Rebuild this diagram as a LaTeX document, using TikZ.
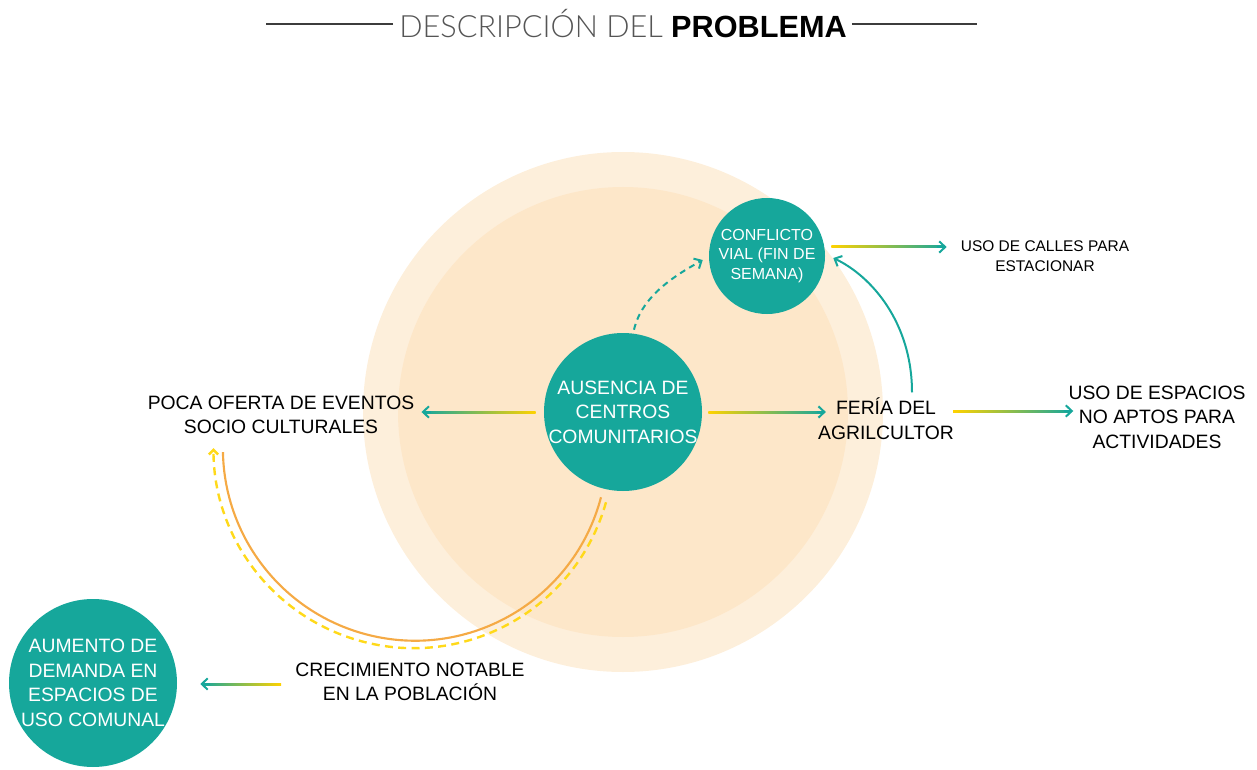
\documentclass[tikz,border=0pt]{standalone}
\usepackage{fontspec}
\setmainfont{Liberation Sans}
\IfFontExistsTF{Lato Light}{\newfontfamily\lightfont{Lato Light}}{\newfontfamily\lightfont{Liberation Sans}}
\usetikzlibrary{arrows.meta,calc}
\definecolor{tealc}{RGB}{22,167,155}
\definecolor{goldc}{RGB}{255,210,0}
\definecolor{orangec}{RGB}{245,170,69}
\definecolor{dashyc}{RGB}{255,217,26}
\definecolor{outerc}{RGB}{253,239,219}
\definecolor{innerc}{RGB}{253,231,201}
\definecolor{titlegray}{RGB}{85,85,85}
\definecolor{linegray}{RGB}{60,60,60}
\tikzset{
  txt/.style={font=\fontsize{14.5}{18.4}\selectfont, align=center, inner sep=0pt, text=black},
  wtxt/.style={txt, text=white},
  smtxt/.style={font=\fontsize{11.6}{15}\selectfont, align=center, inner sep=0pt, text=black},
  bub/.style={circle, fill=tealc, draw=none, inner sep=0pt},
  barb/.style={-{Straight Barb[length=4.5pt,width=8.5pt]}},
  headarrow/.style={draw=tealc, line width=1.5pt, barb},
  tline/.style={draw=linegray, line width=0.8pt},
}
\newcommand\gradarrow[4]{%
  \shade[left color=#3,right color=#4] ($(#1)+(0,-1)$) rectangle ($($(#2)!1.5pt!(#1)$)+(0,1)$);
  \draw[headarrow] ($(#2)!7pt!(#1)$) -- (#2);
}
\begin{document}
\begin{tikzpicture}[x=0.75pt,y=-0.75pt]
\useasboundingbox (0,0) rectangle (1257,770);
% background circles
\node[circle, fill=outerc, inner sep=0pt, minimum size=390pt] (bgout) at (623,412) {};
\node[circle, fill=innerc, inner sep=0pt, minimum size=337.5pt] (bgin) at (623,412) {};

% title
\node[anchor=base, inner sep=0pt, font=\fontsize{23}{26}\selectfont] (title) at (623,37.5)
  {{\lightfont\color{titlegray}DESCRIPCIÓN DEL }{\bfseries PROBLEMA}};
\draw[tline] ($(title.base west)+(-6,-13.5)$) -- ++(-127,0);
\draw[tline] ($(title.base east)+(5,-13.5)$) -- ++(125,0);

% main bubbles
\node[bub, minimum size=118.5pt] (aus) at (623,412) {};
\node[wtxt] (aust) at (aus.center) {AUSENCIA DE\\CENTROS\\COMUNITARIOS};
\node[bub, minimum size=87pt] (conf) at (767,256) {};
\node[wtxt, font=\fontsize{12}{14.6}\selectfont] (conft) at (conf.center) {CONFLICTO\\VIAL (FIN DE\\SEMANA)};
\node[bub, minimum size=126pt] (aum) at (93,683) {};
\node[wtxt] (aumt) at (aum.center) {AUMENTO DE\\DEMANDA EN\\ESPACIOS DE\\USO COMUNAL};

% text nodes
\node[txt] (poca) at (281,415) {POCA OFERTA DE EVENTOS\\SOCIO CULTURALES};
\node[txt] (feria) at (886,418.5) {FERÍA DEL\\AGRILCULTOR};
\node[txt] (uesp) at (1157,417) {USO DE ESPACIOS\\NO APTOS PARA\\ACTIVIDADES};
\node[smtxt] (ucalles) at (1045,256) {USO DE CALLES PARA\\ESTACIONAR};
\node[txt] (crec) at (410,682) {CRECIMIENTO NOTABLE\\EN LA POBLACIÓN};

% arcs
\draw[orangec, line width=1.6pt] ($(aus.south)+(-22,6)$) arc[start angle=14.7, end angle=178.9, radius=192.2];
\draw[dashyc, line width=1.8pt, dash pattern=on 6pt off 4pt, -{Straight Barb[length=3.5pt,width=7pt]}]
  ($(aus.south)+(-17,11)$) arc[start angle=15.7, end angle=180, radius=200];

% straight gradient arrows
\gradarrow{$(aus.west)+(-8,0)$}{$(poca.east)+(7,-3)$}{tealc}{goldc}
\gradarrow{$(aus.east)+(6,0)$}{$(feria.west)+(8,-6.5)$}{goldc}{tealc}
\gradarrow{$(feria.east)+(-1,-7.5)$}{$(uesp.west)+(5,-6)$}{goldc}{tealc}
\gradarrow{$(conf.east)+(6,-9)$}{$(ucalles.west)+(-14,-9)$}{goldc}{tealc}
\gradarrow{$(crec.west)+(-14,2)$}{$(aum.east)+(23,1)$}{tealc}{goldc}

% curved arrows
\draw[tealc, line width=1.5pt, barb] ($(feria.north)+(26,-5)$) .. controls +(0,-70) and +(38,18) .. ($(conf.east)+(8,2)$);
\draw[tealc, line width=1.5pt, dash pattern=on 4.5pt off 3.5pt, barb]
  ($(aus.north)+(11,-3)$) .. controls +(8,-35) and +(-25,14) .. ($(conf.west)+(-6,4)$);
\end{tikzpicture}
\end{document}
